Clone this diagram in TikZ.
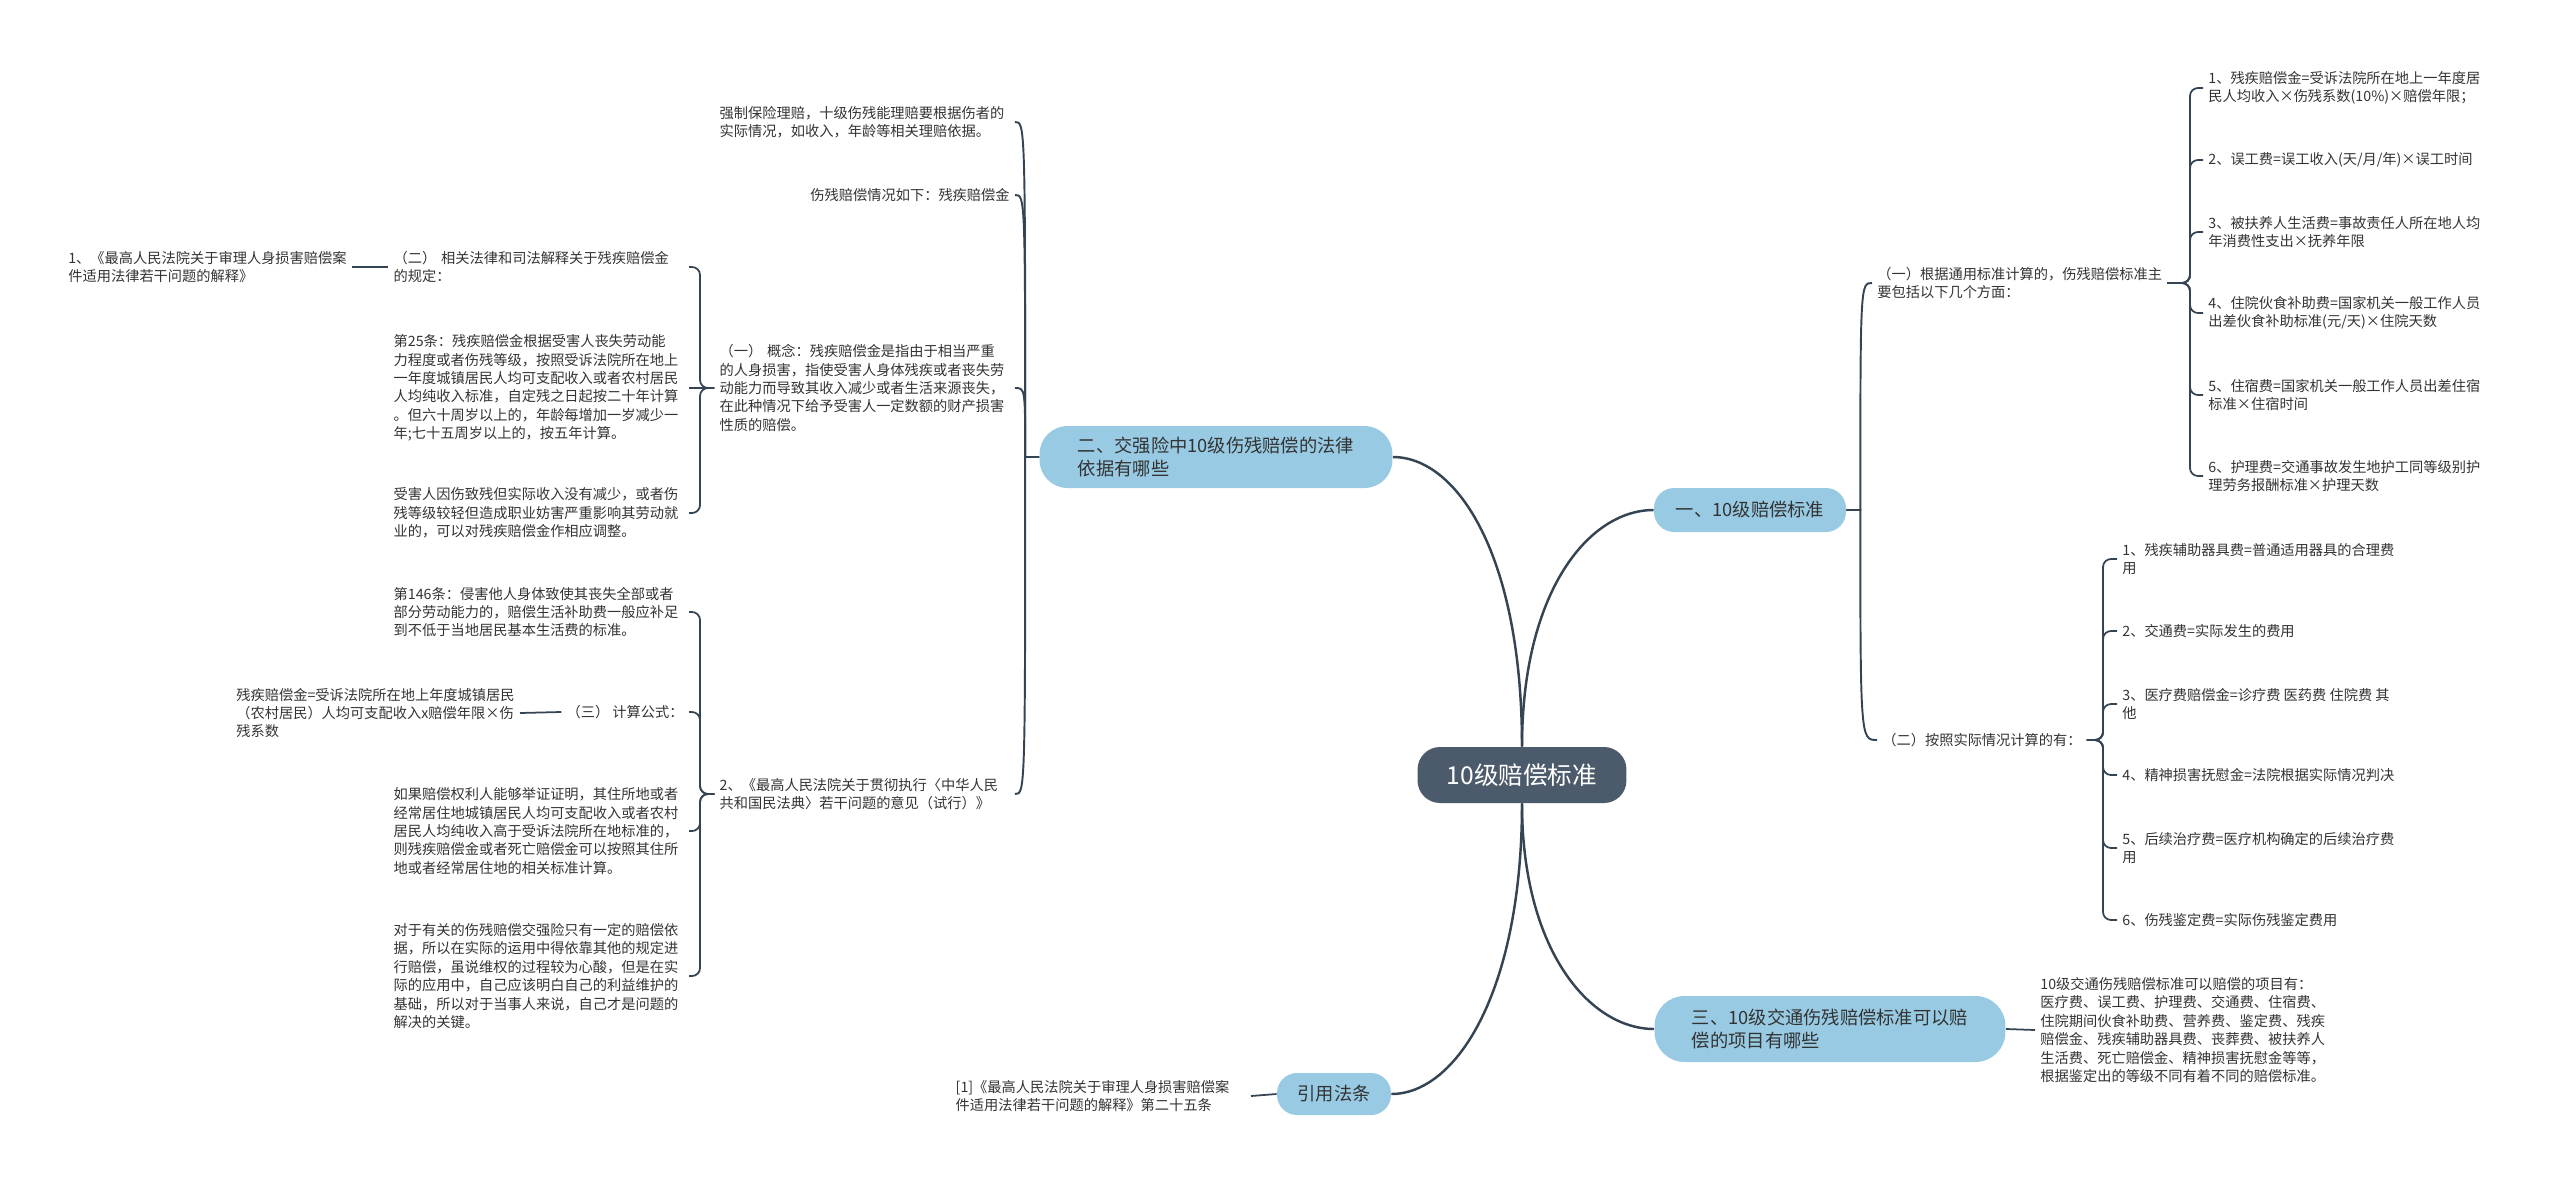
\documentclass[tikz,border=0pt]{standalone}
\usepackage{fontspec}
\setmainfont{Noto Sans CJK SC}
\usepackage{xcolor}
\usepackage{tikz}

\definecolor{rootfill}{HTML}{4B5B6B}
\definecolor{topicfill}{HTML}{98CBE3}
\definecolor{linecol}{HTML}{344452}
\definecolor{leaftext}{HTML}{333333}

\newcommand\leafsize{\fontsize{8.1pt}{10.5pt}\selectfont}
\newcommand\topicsize{\fontsize{10.4pt}{13.4pt}\selectfont}
\newcommand\rootsize{\fontsize{14pt}{17pt}\selectfont}

\tikzset{
  rootbox/.style={fill=rootfill, text=white, font=\rootsize, rounded corners=0.45cm,
    minimum width=4.18cm, minimum height=1.12cm},
  topic/.style={fill=topicfill, text=leaftext, font=\topicsize, align=left, rounded corners=0.4cm},
  leaf/.style={font=\leafsize, text=leaftext, align=left, inner xsep=0.1cm, inner ysep=0.04cm},
  wideleaf/.style={leaf, text width=5.8cm},
  trunk/.style={draw=linecol, line width=1.4pt},
  branch/.style={draw=linecol, line width=1.1pt},
  twig/.style={draw=linecol, line width=1pt, rounded corners=0.16cm},
}

\begin{document}
\begin{tikzpicture}[x=0.02cm, y=-0.02cm]
  \useasboundingbox (0,0) rectangle (2560,1180);

  % Central topic
  \node[rootbox] (root) at (1522,775) {10级赔偿标准};

  % Main topics
  \node[topic, minimum width=3.84cm, minimum height=0.88cm] (std) at (1750,510) {一、10级赔偿标准};
  \node[topic, minimum width=7.06cm, minimum height=1.24cm, rounded corners=0.56cm] (law) at (1216,457)
    {二、交强险中10级伤残赔偿的法律\\依据有哪些};
  \node[topic, minimum width=7.02cm, minimum height=1.32cm, rounded corners=0.6cm] (items) at (1830,1029)
    {三、10级交通伤残赔偿标准可以赔\\偿的项目有哪些};
  \node[topic, minimum width=2.28cm, minimum height=0.84cm] (cite) at (1334,1094) {引用法条};

  % Root connectors
  \draw[trunk] (root.north) .. controls +(0,-155) and +(-65,0) .. (std.west);
  \draw[trunk] (root.north) .. controls +(0,-190) and +(65,0) .. (law.east);
  \draw[trunk] (root.south) .. controls +(0,146) and +(-65,0) .. (items.west);
  \draw[trunk] (root.south) .. controls +(0,188) and +(65,0) .. (cite.east);

  % Standard: two groups
  \node[leaf, anchor=west] (std-gen) at (1872,283)
    {（一）根据通用标准计算的，伤残赔偿标准主\\要包括以下几个方面：};
  \node[leaf, anchor=west] (std-act) at (1877,740) {（二）按照实际情况计算的有：};
  \path (std.east) ++(14,0) coordinate (std-j);
  \foreach \nd in {std-gen,std-act}
    \draw[branch] (std.east) -- (std-j) .. controls (std-j |- \nd.west) .. (\nd.west);

  % General standard items
  \coordinate (gen-bar) at (2190,283);
  \node[leaf, anchor=west] (gen1) at (2203,88) {1、残疾赔偿金=受诉法院所在地上一年度居\\民人均收入×伤残系数(10\%)×赔偿年限；};
  \node[leaf, anchor=west] (gen2) at (2203,160) {2、误工费=误工收入(天/月/年)×误工时间};
  \node[leaf, anchor=west] (gen3) at (2203,232) {3、被扶养人生活费=事故责任人所在地人均\\年消费性支出×抚养年限};
  \node[leaf, anchor=west] (gen4) at (2203,313) {4、住院伙食补助费=国家机关一般工作人员\\出差伙食补助标准(元/天)×住院天数};
  \node[leaf, anchor=west] (gen5) at (2203,395) {5、住宿费=国家机关一般工作人员出差住宿\\标准×住宿时间};
  \node[leaf, anchor=west] (gen6) at (2203,476) {6、护理费=交通事故发生地护工同等级别护\\理劳务报酬标准×护理天数};
  \foreach \i in {1,...,6}
    \draw[twig] (std-gen.east) -| (gen-bar |- gen\i.west) -- (gen\i.west);

  % Actual cost items
  \coordinate (act-bar) at (2103,740);
  \node[leaf, anchor=west] (act1) at (2117,559) {1、残疾辅助器具费=普通适用器具的合理费\\用};
  \node[leaf, anchor=west] (act2) at (2117,631) {2、交通费=实际发生的费用};
  \node[leaf, anchor=west] (act3) at (2117,704) {3、医疗费赔偿金=诊疗费 医药费 住院费 其\\他};
  \node[leaf, anchor=west] (act4) at (2117,775) {4、精神损害抚慰金=法院根据实际情况判决};
  \node[leaf, anchor=west] (act5) at (2117,848) {5、后续治疗费=医疗机构确定的后续治疗费\\用};
  \node[leaf, anchor=west] (act6) at (2117,920) {6、伤残鉴定费=实际伤残鉴定费用};
  \foreach \i in {1,...,6}
    \draw[twig] (std-act.east) -| (act-bar |- act\i.west) -- (act\i.west);

  % Items text
  \node[leaf, anchor=west] (items-text) at (2035,1030)
    {10级交通伤残赔偿标准可以赔偿的项目有：\\医疗费、误工费、护理费、交通费、住宿费、\\住院期间伙食补助费、营养费、鉴定费、残疾\\赔偿金、残疾辅助器具费、丧葬费、被扶养人\\生活费、死亡赔偿金、精神损害抚慰金等等，\\根据鉴定出的等级不同有着不同的赔偿标准。};
  \draw[twig] (items.east) -- (items-text.west);

  % Cited article
  \node[wideleaf, anchor=east] (cite-text) at (1251,1096)
    {[1]《最高人民法院关于审理人身损害赔偿案\\件适用法律若干问题的解释》第二十五条};
  \draw[twig] (cite.west) -- (cite-text.east);

  % Law basis leaves
  \node[wideleaf, anchor=east] (law-a) at (1015,122)
    {强制保险理赔，十级伤残能理赔要根据伤者的\\实际情况，如收入，年龄等相关理赔依据。};
  \node[leaf, anchor=east] (law-b) at (1015,195) {伤残赔偿情况如下：残疾赔偿金};
  \node[wideleaf, anchor=east] (law-c) at (1015,388)
    {（一） 概念：残疾赔偿金是指由于相当严重\\的人身损害，指使受害人身体残疾或者丧失劳\\动能力而导致其收入减少或者生活来源丧失，\\在此种情况下给予受害人一定数额的财产损害\\性质的赔偿。};
  \node[wideleaf, anchor=east] (law-d) at (1015,794)
    {2、《最高人民法院关于贯彻执行〈中华人民\\共和国民法典〉若干问题的意见（试行）》};
  \path (law.west) ++(-14,0) coordinate (law-j);
  \foreach \nd in {law-a,law-b,law-c,law-d}
    \draw[branch] (law.west) -- (law-j) .. controls (law-j |- \nd.east) .. (\nd.east);

  % Concept leaves
  \coordinate (con-bar) at (700,388);
  \node[wideleaf, anchor=east] (con1) at (689,267)
    {（二） 相关法律和司法解释关于残疾赔偿金\\的规定：};
  \node[wideleaf, anchor=east] (con2) at (689,388)
    {第25条：残疾赔偿金根据受害人丧失劳动能\\力程度或者伤残等级，按照受诉法院所在地上\\一年度城镇居民人均可支配收入或者农村居民\\人均纯收入标准，自定残之日起按二十年计算\\。但六十周岁以上的，年龄每增加一岁减少一\\年;七十五周岁以上的，按五年计算。};
  \node[wideleaf, anchor=east] (con3) at (689,513)
    {受害人因伤致残但实际收入没有减少，或者伤\\残等级较轻但造成职业妨害严重影响其劳动就\\业的，可以对残疾赔偿金作相应调整。};
  \foreach \i in {1,3}
    \draw[twig] (law-c.west) -| (con-bar |- con\i.east) -- (con\i.east);
  \draw[twig] (law-c.west) -- (con2.east);
  \node[leaf, anchor=west] (con1x) at (63,267)
    {1、《最高人民法院关于审理人身损害赔偿案\\件适用法律若干问题的解释》};
  \draw[twig] (con1.west) -- (con1x.east);

  % Opinion leaves
  \coordinate (op-bar) at (700,794);
  \node[wideleaf, anchor=east] (op1) at (689,612)
    {第146条：侵害他人身体致使其丧失全部或者\\部分劳动能力的，赔偿生活补助费一般应补足\\到不低于当地居民基本生活费的标准。};
  \node[leaf, anchor=east] (op2) at (689,712) {（三） 计算公式：};
  \node[wideleaf, anchor=east] (op3) at (689,831)
    {如果赔偿权利人能够举证证明，其住所地或者\\经常居住地城镇居民人均可支配收入或者农村\\居民人均纯收入高于受诉法院所在地标准的，\\则残疾赔偿金或者死亡赔偿金可以按照其住所\\地或者经常居住地的相关标准计算。};
  \node[wideleaf, anchor=east] (op4) at (689,976)
    {对于有关的伤残赔偿交强险只有一定的赔偿依\\据，所以在实际的运用中得依靠其他的规定进\\行赔偿，虽说维权的过程较为心酸，但是在实\\际的应用中，自己应该明白自己的利益维护的\\基础，所以对于当事人来说，自己才是问题的\\解决的关键。};
  \foreach \i in {1,...,4}
    \draw[twig] (law-d.west) -| (op-bar |- op\i.east) -- (op\i.east);
  \node[leaf, anchor=west] (op2x) at (231,713)
    {残疾赔偿金=受诉法院所在地上年度城镇居民\\（农村居民）人均可支配收入x赔偿年限×伤\\残系数};
  \draw[twig] (op2.west) -- (op2x.east);

\end{tikzpicture}
\end{document}
